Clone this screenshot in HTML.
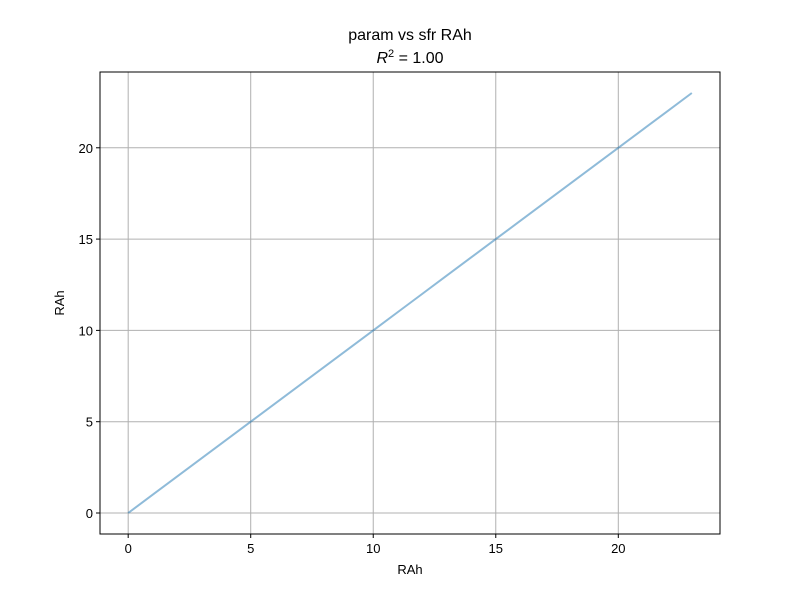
<!DOCTYPE html>
<html><head><meta charset="utf-8"><style>
body{margin:0;background:#fff;font-family:"Liberation Sans","DejaVu Sans",sans-serif;}
</style></head><body>
<svg id="chart" width="800" height="600" xmlns="http://www.w3.org/2000/svg">
<rect width="800" height="600" fill="#fff"/>
<g id="grid"></g>
<g id="series"></g>
<rect x="100" y="72" width="620" height="462" fill="none" stroke="#000" stroke-width="1"/>
<g id="ticks" font-size="13" fill="#000"></g>
<text x="410" y="40" text-anchor="middle" font-size="16">param vs sfr RAh</text>
<text x="410" y="63" text-anchor="middle" font-size="16"><tspan font-style="italic">R</tspan><tspan dy="-6" font-size="11">2</tspan><tspan dy="6"> = 1.00</tspan></text>
<text x="410" y="574" text-anchor="middle" font-size="13">RAh</text>
<text x="64" y="303" text-anchor="middle" font-size="13" transform="rotate(-90 64 303)">RAh</text>
</svg>
<script>
const xValues=[0,1,2,3,4,5,6,7,8,9,10,11,12,13,14,15,16,17,18,19,20,21,22,23];
const yValues=[0,1,2,3,4,5,6,7,8,9,10,11,12,13,14,15,16,17,18,19,20,21,22,23];
const xTicks=[0,5,10,15,20];
const yTicks=[0,5,10,15,20];
const xMin=-1.15,xMax=24.15,yMin=-1.15,yMax=24.15;
const L=100,R=720,T=72,B=534;
const sx=v=>L+(v-xMin)/(xMax-xMin)*(R-L);
const sy=v=>B-(v-yMin)/(yMax-yMin)*(B-T);
const NS="http://www.w3.org/2000/svg";
const grid=document.getElementById('grid'),ticks=document.getElementById('ticks'),series=document.getElementById('series');
function mk(tag,attrs,parent){const e=document.createElementNS(NS,tag);for(const k in attrs)e.setAttribute(k,attrs[k]);parent.appendChild(e);return e;}
xTicks.forEach(t=>{
 const x=sx(t);
 const g=mk('line',{x1:x,x2:x,y1:T,y2:B,stroke:'#b0b0b0','stroke-width':1},grid);
 
 
 const k=mk('line',{x1:x,x2:x,y1:B,y2:B+4,stroke:'#000'},ticks);
 
 
 const tx=mk('text',{x:x,y:B+19,'text-anchor':'middle'},ticks);tx.textContent=t;
 
 
});
yTicks.forEach(t=>{
 const y=sy(t);
 const g=mk('line',{x1:L,x2:R,y1:y,y2:y,stroke:'#b0b0b0','stroke-width':1},grid);
 
 
 const k=mk('line',{x1:L-4,x2:L,y1:y,y2:y,stroke:'#000'},ticks);
 
 
 const tx=mk('text',{x:L-7,y:y+5,'text-anchor':'end'},ticks);tx.textContent=t;
 
 
});
const pts=xValues.map((x,i)=>sx(x)+','+sy(yValues[i])).join(' ');
const pl=mk('polyline',{points:pts,fill:'none',stroke:'#1f77b4','stroke-opacity':0.5,'stroke-width':2},series);


</script>
</body></html>
